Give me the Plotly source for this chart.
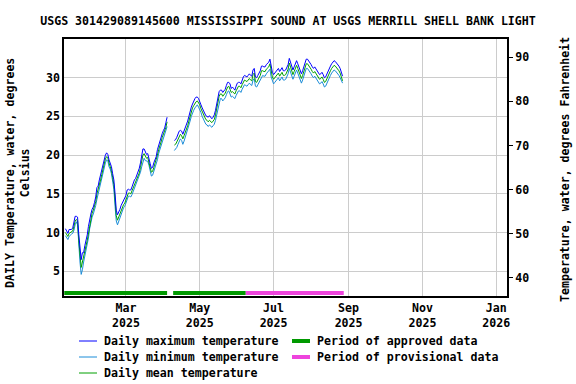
import pandas as pd
import plotly.graph_objects as go

# ---------------- data ----------------
seg1_start = "2025-01-10"
seg1_max = [10.5,10.1,9.9,10.4,10.4,10.4,10.6,11.4,12.1,12.1,12.0,9.8,7.8,6.5,7.4,7.4,8.3,8.9,9.7,10.8,
            11.8,12.4,13.0,13.3,13.9,14.6,15.8,16.0,16.8,17.4,18.1,18.9,19.5,20.0,20.3,20.1,19.4,19.0,18.5,17.6,
            16.8,15.0,12.9,12.3,12.6,13.0,13.5,13.8,14.0,14.3,14.8,15.5,15.6,15.5,15.5,15.9,16.4,16.8,17.0,17.4,
            17.8,18.3,19.0,19.7,20.8,20.8,20.3,20.1,20.2,19.7,18.9,18.3,18.4,19.0,19.4,19.8,20.7,21.3,21.6,22.3,
            22.8,23.2,23.5,24.2,24.9]
seg1_min = [9.6,9.3,9.1,9.5,9.7,9.8,9.9,10.3,11.0,11.4,11.0,8.3,6.2,4.6,5.2,6.2,6.9,7.8,8.4,9.3,
            10.5,11.4,12.0,12.4,12.9,13.5,14.3,15.0,15.6,16.3,16.9,17.6,18.3,19.0,19.4,19.3,18.5,18.2,17.6,16.6,
            15.6,13.4,11.5,11.0,11.5,12.0,12.4,12.9,13.2,13.4,13.8,14.3,14.7,14.7,14.6,14.9,15.3,15.8,16.1,16.4,
            16.8,17.2,17.8,18.5,19.2,19.6,19.3,19.2,19.2,18.7,17.9,17.3,17.4,17.9,18.4,18.8,19.4,20.2,20.7,21.2,
            21.8,22.3,22.6,23.1,23.7]
seg1_mean = [10.0,9.7,9.5,9.9,10.0,10.1,10.2,10.8,11.5,11.7,11.5,9.0,7.0,5.5,6.2,6.8,7.6,8.3,9.0,10.0,
             11.1,11.9,12.5,12.9,13.4,14.0,15.0,15.5,16.2,16.8,17.5,18.2,18.9,19.5,19.8,19.7,19.0,18.6,18.0,17.1,
             16.2,14.2,12.2,11.6,12.0,12.5,13.0,13.3,13.6,13.8,14.3,14.9,15.1,15.1,15.0,15.4,15.8,16.3,16.5,16.9,
             17.3,17.7,18.4,19.1,20.0,20.2,19.8,19.6,19.7,19.2,18.4,17.8,17.9,18.4,18.9,19.3,20.0,20.7,21.1,21.7,
             22.3,22.7,23.0,23.6,24.3]

seg2_start = "2025-04-10"
seg2_max = [21.9,22.0,22.3,22.7,23.1,23.2,23.1,22.7,23.1,23.5,
            23.8,24.4,25.0,25.7,26.2,26.6,27.0,27.3,27.5,27.5,
            27.3,27.0,26.5,26.1,25.7,25.3,25.1,25.0,24.9,25.1,
            24.8,24.7,24.9,25.2,25.8,26.6,27.5,28.2,28.4,28.4,
            28.1,28.3,28.5,29.0,29.4,29.4,29.2,28.6,28.8,28.6,
            28.4,28.9,29.3,29.4,29.4,29.2,29.7,30.1,30.3,30.2,
            30.1,30.3,30.5,30.3,30.2,31.0,31.2,30.1,30.0,30.3,
            30.6,30.9,31.5,31.5,31.4,31.4,31.7,31.9,32.0,32.4,
            31.3,30.7,30.4,30.6,30.8,30.9,31.2,30.8,31.0,31.3,
            30.9,30.9,31.0,31.3,31.7,32.5,31.9,31.5,31.0,31.4,
            31.9,32.2,31.8,31.4,30.9,30.5,30.9,31.4,31.8,32.4,
            32.4,32.2,32.0,31.7,31.4,31.2,31.4,31.1,30.9,30.7,
            30.4,30.5,30.7,30.4,30.0,30.1,30.5,30.8,31.2,31.5,
            31.8,32.1,32.2,32.1,31.9,31.8,31.5,31.2,30.8,30.2]
seg2_min = [20.6,20.8,21.0,21.4,21.8,22.1,21.9,21.4,21.8,22.3,
            22.6,23.1,23.8,24.4,25.0,25.5,25.8,26.1,26.4,26.5,
            26.2,25.9,25.5,25.0,24.6,24.2,24.0,23.9,23.7,23.9,
            23.7,23.6,23.8,24.0,24.5,25.3,26.2,27.0,27.3,27.3,
            27.0,27.2,27.4,27.8,28.2,28.3,28.0,27.5,27.6,27.5,
            27.3,27.7,28.1,28.3,28.3,28.1,28.5,28.9,29.1,29.0,
            28.9,29.1,29.3,29.1,29.0,29.7,29.9,28.9,28.8,29.1,
            29.4,29.7,30.2,30.3,30.2,30.2,30.5,30.7,30.8,31.1,
            30.1,29.5,29.2,29.4,29.6,29.7,30.0,29.6,29.8,30.1,
            29.7,29.7,29.8,30.1,30.5,31.2,30.7,30.3,29.8,30.2,
            30.7,31.0,30.6,30.2,29.7,29.3,29.7,30.2,30.6,31.2,
            31.2,31.0,30.8,30.5,30.2,30.0,30.2,29.9,29.7,29.5,
            29.2,29.3,29.5,29.2,28.8,28.9,29.3,29.6,30.0,30.3,
            30.6,30.9,31.0,30.9,30.7,30.6,30.3,30.0,29.6,29.3]
seg2_mean = [21.3,21.4,21.7,22.1,22.5,22.7,22.5,22.1,22.5,22.9,
             23.2,23.8,24.4,25.1,25.6,26.1,26.4,26.7,26.9,27.0,
             26.8,26.5,26.0,25.6,25.2,24.8,24.6,24.5,24.3,24.5,
             24.3,24.2,24.4,24.6,25.2,26.0,26.9,27.6,27.9,27.9,
             27.6,27.8,28.0,28.4,28.8,28.9,28.6,28.1,28.2,28.1,
             27.9,28.3,28.7,28.9,28.9,28.7,29.1,29.5,29.7,29.6,
             29.5,29.7,29.9,29.7,29.6,30.4,30.6,29.5,29.4,29.7,
             30.0,30.3,30.9,30.9,30.8,30.8,31.1,31.3,31.4,31.8,
             30.7,30.1,29.8,30.0,30.2,30.3,30.6,30.2,30.4,30.7,
             30.3,30.3,30.4,30.7,31.1,31.9,31.3,30.9,30.4,30.8,
             31.3,31.6,31.2,30.8,30.3,29.9,30.3,30.8,31.2,31.8,
             31.8,31.6,31.4,31.1,30.8,30.6,30.8,30.5,30.3,30.1,
             29.8,29.9,30.1,29.8,29.4,29.5,29.9,30.2,30.6,30.9,
             31.2,31.5,31.6,31.5,31.3,31.2,30.9,30.6,30.2,29.6]

approved_periods = [("2025-01-09", "2025-04-04"), ("2025-04-09", "2025-06-08")]
provisional_periods = [("2025-06-08", "2025-08-28")]
period_level = 2.2

tick_dates = ["2025-03-01", "2025-05-01", "2025-07-01", "2025-09-01", "2025-11-01", "2026-01-01"]
tick_labels = ["Mar<br>2025", "May<br>2025", "Jul<br>2025", "Sep<br>2025", "Nov<br>2025", "Jan<br>2026"]
c_ticks = [5, 10, 15, 20, 25, 30]
f_ticks = [40, 50, 60, 70, 80, 90]

title = "USGS 301429089145600 MISSISSIPPI SOUND AT USGS MERRILL SHELL BANK LIGHT"
legend_names = ["Daily maximum temperature", "Daily minimum temperature", "Daily mean temperature",
                "Period of approved data", "Period of provisional data"]

# ---------------- styles ----------------
C_MAX = "#0000ff"
C_MIN = "#1a8cd8"
C_MEAN = "#00a000"
C_APP = "#009900"
C_PROV = "#ee44dd"
FONT = "DejaVu Sans Mono"
FS = 11.6

d1 = pd.date_range(seg1_start, periods=len(seg1_max), freq="D")
d2 = pd.date_range(seg2_start, periods=len(seg2_max), freq="D")

fig = go.Figure()
for dates, ymax, ymin, ymean in [(d1, seg1_max, seg1_min, seg1_mean), (d2, seg2_max, seg2_min, seg2_mean)]:
    fig.add_trace(go.Scatter(x=dates, y=ymin, mode="lines", line=dict(color=C_MIN, width=1), showlegend=False))
    fig.add_trace(go.Scatter(x=dates, y=ymean, mode="lines", line=dict(color=C_MEAN, width=1), showlegend=False))
    fig.add_trace(go.Scatter(x=dates, y=ymax, mode="lines", line=dict(color=C_MAX, width=1), showlegend=False))

for (a, b) in approved_periods:
    fig.add_trace(go.Scatter(x=[a, b], y=[period_level, period_level], mode="lines",
                             line=dict(color=C_APP, width=4), showlegend=False))
for (a, b) in provisional_periods:
    fig.add_trace(go.Scatter(x=[a, b], y=[period_level, period_level], mode="lines",
                             line=dict(color=C_PROV, width=4), showlegend=False))

# invisible trace to activate the Fahrenheit axis
fig.add_trace(go.Scatter(x=[tick_dates[0]], y=[f_ticks[0]], yaxis="y2", mode="markers",
                         marker=dict(opacity=0), showlegend=False, hoverinfo="skip"))

font = dict(family=FONT, size=FS, color="black", weight="bold")

fig.update_layout(
    width=576, height=384,
    margin=dict(l=64, r=69, t=39, b=88),
    paper_bgcolor="white", plot_bgcolor="white",
    font=font,
    showlegend=False,
    title=dict(text=title, x=0.5, xanchor="center", y=1 - 21 / 384, yanchor="middle",
               yref="container", font=dict(family=FONT, size=FS, color="black", weight="bold")),
    xaxis=dict(type="date", range=["2025-01-08 19:00", "2026-01-09 22:00"],
               tickvals=tick_dates, ticktext=tick_labels, ticks="",
               showgrid=True, gridcolor="#cccccc", gridwidth=1,
               showline=True, linecolor="black", linewidth=1.5, mirror=True,
               zeroline=False, tickfont=font),
    yaxis=dict(range=[1.81, 35.0], tickvals=c_ticks, ticks="",
               showgrid=True, gridcolor="#cccccc", gridwidth=1,
               showline=True, linecolor="black", linewidth=1.5, mirror=True,
               zeroline=False, tickfont=font),
    yaxis2=dict(range=[35.85, 94.15], tickvals=f_ticks, overlaying="y", side="right",
                ticks="outside", ticklen=5, tickcolor="black", tickwidth=1,
                showgrid=False, zeroline=False, showline=False, tickfont=font),
)

# axis titles
fig.add_annotation(text="DAILY Temperature, water, degrees<br>Celsius", textangle=-90,
                   xref="paper", yref="paper", x=(18 - 64) / 443, y=(296 - 173) / 257,
                   xanchor="center", yanchor="middle", showarrow=False, font=font)
fig.add_annotation(text="Temperature, water, degrees Fahrenheit", textangle=-90,
                   xref="paper", yref="paper", x=(565 - 64) / 443, y=(296 - 170) / 257,
                   xanchor="center", yanchor="middle", showarrow=False, font=font)

# manual legend
def px(x):
    return (x - 64) / 443

def py(y):
    return (296 - y) / 257

legend_items = [
    (79, 341, C_MAX, 1, legend_names[0]),
    (79, 357, C_MIN, 1, legend_names[1]),
    (79, 373, C_MEAN, 1, legend_names[2]),
    (292, 341, C_APP, 4, legend_names[3]),
    (292, 357, C_PROV, 4, legend_names[4]),
]
for x0, y0, col, w, name in legend_items:
    fig.add_shape(type="line", xref="paper", yref="paper", x0=px(x0), x1=px(x0 + 18),
                  y0=py(y0), y1=py(y0), line=dict(color=col, width=w))
    fig.add_annotation(text=name, xref="paper", yref="paper", x=px(x0 + 23), y=py(y0),
                       xanchor="left", yanchor="middle", showarrow=False, font=font)

fig.write_html("out.html", config={"displayModeBar": False},
               post_script="document.body.style.margin='0';")
